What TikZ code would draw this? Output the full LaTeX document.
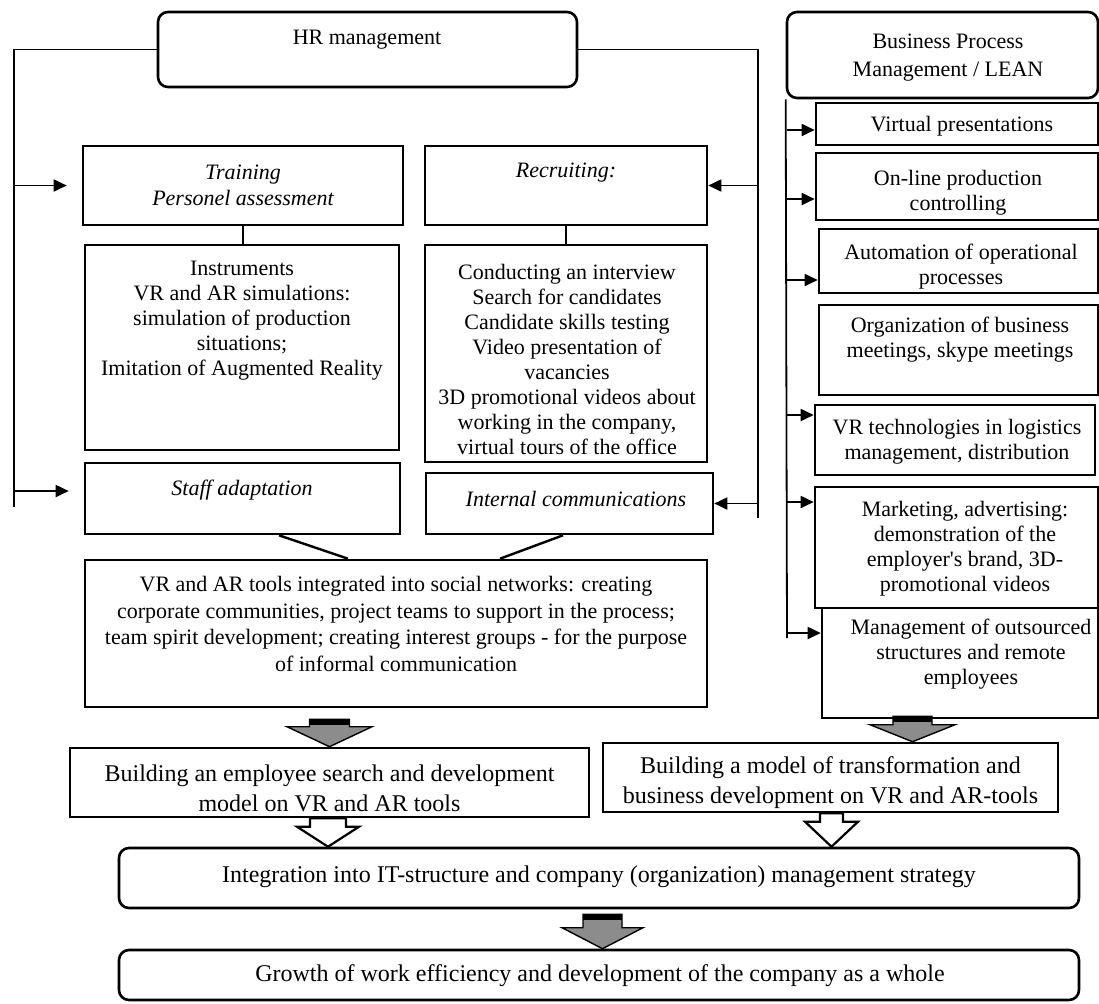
\documentclass[tikz,border=0pt]{standalone}
\usepackage{fontspec}
\setmainfont{Liberation Serif}[Ligatures=TeXOff]
\usetikzlibrary{arrows.meta,fit,calc}

\newcommand{\blockarrow}[6]{%
  \draw[#1] ($(#2)+(-#4,0)$) -- ($(#2)+(#4,0)$) -- ($(#3)+(#4,-#6)$) -- ($(#3)+(#5,-#6)$) -- (#3)
    -- ($(#3)+(-#5,-#6)$) -- ($(#3)+(-#4,-#6)$) -- cycle;}
\newcommand{\arrowband}[2]{\fill ($(#1)+(-#2,0)$) rectangle ($(#1)+(#2,6)$);}

\begin{document}
\begin{tikzpicture}[x=0.5pt, y=-0.5pt,
  box/.style={draw, line width=1.3pt, inner sep=0pt},
  rbox/.style={box, rounded corners=5pt},
  txt/.style={align=center, inner sep=0pt, font=\fontsize{11}{12.5}\selectfont},
  itxt/.style={txt, font=\fontsize{11}{13}\selectfont\itshape},
  btxt/.style={align=center, inner sep=0pt, font=\fontsize{12}{15}\selectfont},
  line/.style={line width=0.9pt},
  arrow/.style={line, -{Triangle[length=6.5pt,width=6pt]}},
  grayarrow/.style={draw, line width=0.7pt, fill=black!45},
  whitearrow/.style={draw, line width=1.1pt, fill=white}
]
\useasboundingbox (0,0) rectangle (1099,1003);

% HR side
\node[rbox, fit={(158,12) (577,87)}] (hr) {};
\node[txt] (hr-t) at (367,40) {HR management};
\node[box, fit={(83,146) (403,225)}] (train) {};
\node[itxt] (train-t) at (243,185) {Training\\Personel assessment};
\node[box, fit={(425,146) (707,225)}] (recr) {};
\node[itxt] (recr-t) at (566,173) {Recruiting:};
\node[box, fit={(85,245) (399,450)}] (instr) {};
\node[txt] (instr-t) at (242,321) {Instruments\\VR and AR simulations:\\simulation of production\\situations;\\Imitation of Augmented Reality};
\node[box, fit={(425,245) (707,462)}] (recrlist) {};
\node[txt] (recrlist-t) at (567,359) {Conducting an interview\\Search for candidates\\Candidate skills testing\\Video presentation of\\vacancies\\3D promotional videos about\\working in the company,\\virtual tours of the office};
\node[box, fit={(85,463) (400,534)}] (staff) {};
\node[itxt] (staff-t) at (242,490) {Staff adaptation};
\node[box, fit={(426,473) (713,534)}] (intcomm) {};
\node[itxt] (intcomm-t) at (576,499) {Internal communications};
\node[box, fit={(85,560) (707,707)}] (social) {};
\node[txt, font=\fontsize{11}{13.3}\selectfont] (social-t) at (396,624) {VR and AR tools integrated into social networks: creating\\corporate communities, project teams to support in the process;\\team spirit development; creating interest groups - for the purpose\\of informal communication};

\coordinate (lbus) at (14,507);
\coordinate (rbus) at (758,518);
\draw[line] (hr.west) -| (lbus);
\draw[line] (hr.east) -| (rbus);
\coordinate (staffa) at ([yshift=3.75pt]staff.west);
\draw[arrow] (lbus |- train.west) -- ([xshift=-7.5pt]train.west);
\draw[arrow] (lbus |- staffa) -- ([xshift=-7.5pt]staffa);
\draw[arrow] (rbus |- recr.east) -- (recr.east);
\draw[arrow] (rbus |- intcomm.east) -- (intcomm.east);
\draw[line] (train.south) -- (train.south |- instr.north);
\draw[line] (recr.south) -- (recr.south |- recrlist.north);
\draw[line, line width=1.2pt] (staff.south -| 279,0) -- (social.north -| 348,0);
\draw[line, line width=1.2pt] (intcomm.south -| 563,0) -- (social.north -| 500,0);

% business process side
\node[rbox, fit={(787,12) (1098,98)}] (bpm) {};
\node[txt, font=\fontsize{11}{14}\selectfont] (bpm-t) at (948,58) {Business Process\\Management / LEAN};
\node[box, fit={(816,103) (1098,145)}] (vp) {};
\node[txt] (vp-t) at (962,126) {Virtual presentations};
\node[box, fit={(816,153) (1098,220)}] (olp) {};
\node[txt] (olp-t) at (958,193) {On-line production\\controlling};
\node[box, fit={(819,229) (1098,293)}] (auto) {};
\node[txt] (auto-t) at (961,267) {Automation of operational\\processes};
\node[box, fit={(819,305) (1098,395)}] (org) {};
\node[txt] (org-t) at (960,340) {Organization of business\\meetings, skype meetings};
\node[box, fit={(815,405) (1095,475)}] (vrt) {};
\node[txt] (vrt-t) at (957,442) {VR technologies in logistics\\management, distribution};
\node[box, fit={(815,487) (1098,608)}] (mkt) {};
\node[txt] (mkt-t) at (965,549) {Marketing, advertising:\\demonstration of the\\employer's brand, 3D-\\promotional videos};
\node[box, fit={(822,608) (1098,718)}] (mos) {};
\node[txt] (mos-t) at (971,654) {Management of outsourced\\structures and remote\\employees};

\coordinate (bbus) at (787,638);
\draw[line] (bpm.south west) -- (bbus);
\coordinate (vpa) at ([yshift=-3pt]vp.west);
\coordinate (olpa) at ([yshift=-6.25pt]olp.west);
\coordinate (autoa) at ([yshift=-9.5pt]auto.west);
\coordinate (vrta) at ([yshift=12.5pt]vrt.west);
\coordinate (mkta) at ([yshift=22.75pt]mkt.west);
\coordinate (mosa) at ([yshift=15pt]mos.west);
\foreach \a in {vpa,olpa,autoa,vrta,mkta,mosa}
  \draw[arrow] (bbus |- \a) -- (\a);

% results
\node[box, fit={(70,748) (589,817)}] (model1) {};
\node[btxt] (model1-t) at (329.5,788) {Building an employee search and development\\model on VR and AR tools};
\node[box, fit={(603,743) (1058,812)}] (model2) {};
\node[btxt] (model2-t) at (830.5,783) {Building a model of transformation and\\business development on VR and AR-tools};
\node[rbox, fit={(119,848) (1079,908)}] (integ) {};
\node[btxt] (integ-t) at (599,877) {Integration into IT-structure and company (organization) management strategy};
\node[rbox, fit={(119,950) (1079,1000)}] (growth) {};
\node[btxt] (growth-t) at (600,976) {Growth of work efficiency and development of the company as a whole};

\coordinate (g1top) at (social.south -| 329.5,0);
\coordinate (g1) at ($(g1top)+(0,11)$);
\coordinate (g1tip) at (model1.north -| g1top);
\blockarrow{grayarrow}{g1}{g1tip}{20}{42.5}{20}
\arrowband{g1}{20}
\coordinate (g2) at ($(mos.south -| 912.5,0)+(0,-3)$);
\coordinate (g2tip) at (model2.north -| g2);
\blockarrow{grayarrow}{g2}{g2tip}{19.5}{42.5}{17}
\arrowband{g2}{19.5}
\coordinate (g3) at ($(integ.south -| 602.5,0)+(0,5)$);
\coordinate (g3tip) at (growth.north -| g3);
\blockarrow{grayarrow}{g3}{g3tip}{19.5}{40.5}{21}
\arrowband{g3}{19.5}
\coordinate (w1) at (model1.south -| 328,0);
\coordinate (w1tip) at (integ.north -| w1);
\blockarrow{whitearrow}{w1}{w1tip}{18}{31}{20}
\coordinate (w2) at (model2.south -| 831.5,0);
\coordinate (w2tip) at (integ.north -| w2);
\blockarrow{whitearrow}{w2}{w2tip}{11.5}{26.5}{25}
\end{tikzpicture}
\end{document}
